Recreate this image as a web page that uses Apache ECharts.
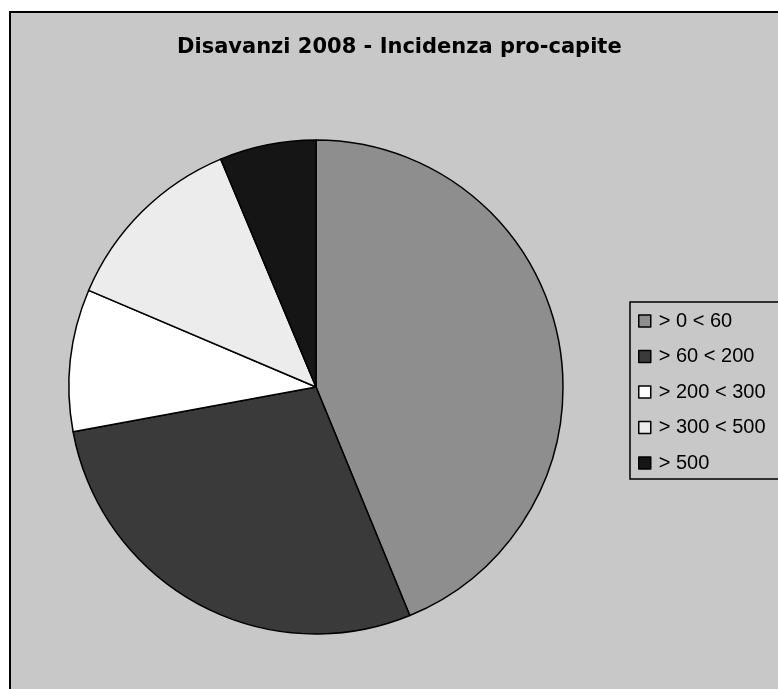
<!DOCTYPE html>
<html>
<head>
<meta charset="utf-8">
<script src="https://cdn.jsdelivr.net/npm/echarts@6/dist/echarts.min.js"></script>
<style>
html,body{margin:0;padding:0;background:#fff;}
#chart{width:778px;height:689px;}
</style>
</head>
<body>
<div id="chart"></div>
<script>
const titleText = 'Disavanzi 2008 - Incidenza pro-capite';
const categories = ['> 0 < 60', '> 60 < 200', '> 200 < 300', '> 300 < 500', '> 500'];
const values = [43.8, 28.3, 9.3, 12.3, 6.3];
const colors = ['#8e8e8e', '#3a3a3a', '#ffffff', '#ececec', '#151515'];

const chart = echarts.init(document.getElementById('chart'), null, {renderer: 'canvas'});
chart.setOption({
  animation: false,
  backgroundColor: '#ffffff',
  graphic: [{
    type: 'rect',
    z: -10,
    shape: {x: 10, y: 12, width: 800, height: 700},
    style: {fill: '#c8c8c8', stroke: '#000', lineWidth: 2}
  }],
  title: {
    text: titleText,
    left: 177,
    top: 37,
    padding: 0,
    textStyle: {fontFamily: 'DejaVu Sans', fontWeight: 'bold', fontSize: 21, color: '#000'}
  },
  legend: {
    orient: 'vertical',
    left: 630,
    top: 302,
    padding: [9, 30, 6, 8],
    itemGap: 15.5,
    itemWidth: 12,
    itemHeight: 12,
    icon: 'rect',
    borderColor: '#000',
    borderWidth: 1.5,
    backgroundColor: 'transparent',
    itemStyle: {borderColor: '#000', borderWidth: 1.5},
    textStyle: {fontFamily: 'Liberation Sans', fontSize: 20, color: '#000', padding: [0, 0, 0, 3]},
    data: categories
  },
  series: [{
    type: 'pie',
    center: [316, 387],
    radius: 247,
    startAngle: 90,
    clockwise: true,
    label: {show: false},
    labelLine: {show: false},
    emphasis: {disabled: true},
    itemStyle: {borderColor: '#000', borderWidth: 1.5},
    data: categories.map((c, i) => ({name: c, value: values[i], itemStyle: {color: colors[i]}}))
  }]
});
</script>
</body>
</html>
